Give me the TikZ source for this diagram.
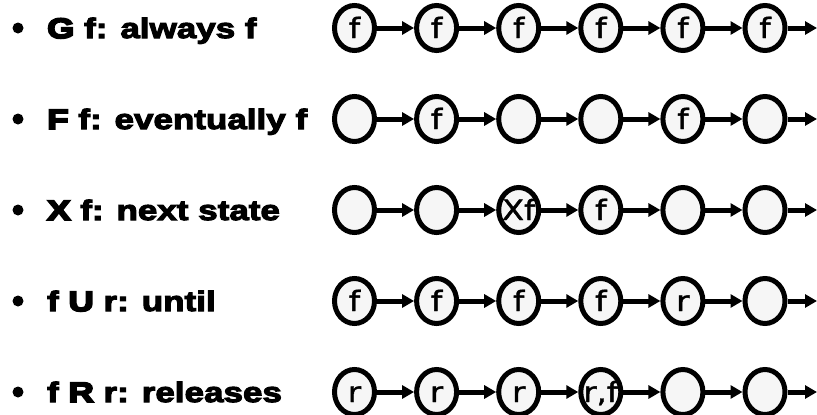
\documentclass[tikz,border=0pt]{standalone}
\usepackage{fontspec}
\usetikzlibrary{shapes.geometric,arrows.meta}
\setmainfont{Liberation Sans}
\newfontfamily\headfont{Liberation Sans Bold}[FakeBold=4,FakeStretch=1.25]
\newfontfamily\opfont{Liberation Sans Bold}[FakeBold=7,FakeStretch=1.25]
\newfontfamily\statefont{DejaVu Sans}[FakeBold=1.5,FakeStretch=1.15]
\definecolor{statefill}{HTML}{F6F6F6}
\newcommand{\stlabel}[1]{\makebox[0pt]{\smash{\raisebox{-10pt}{\statefont\fontsize{28}{28}\selectfont #1}}}}
\tikzset{
  state/.style={ellipse, draw=black, fill=statefill, line width=5pt,
    minimum width=40pt, minimum height=45pt, inner sep=0pt},
  trans/.style={line width=5pt, -{Triangle[length=12pt,width=13pt]}},
  heading/.style={anchor=base west, inner sep=0pt, font=\headfont\fontsize{28}{28}\selectfont},
  bulletdot/.style={circle, fill=black, minimum size=11pt, inner sep=0pt},
}
\begin{document}
\begin{tikzpicture}[x=1pt,y=-1pt]
\useasboundingbox (0,0) rectangle (817,415);
% the five temporal operators, one row each
\foreach \row/\txt/\labs in {
  1/{{\opfont G} f: always f}/{f,f,f,f,f,f},
  2/{{\opfont F} f: eventually f}/{{},f,{},{},f,{}},
  3/{{\opfont X} f: next state}/{{},{},Xf,f,{},{}},
  4/{f {\opfont U} r: until}/{f,f,f,f,r,{}},
  5/{f {\opfont R} r: releases}/{r,r,r,{r,f},{},{}}}{
  \pgfmathsetmacro{\yc}{28+91*(\row-1)}
  \node[bulletdot] (b\row) at (18,\yc) {};
  \node[heading] (h\row) at (47,\yc+10) {\txt};
  \foreach \lab [count=\c] in \labs {
    \node[state] (s\row-\c) at ({354.5+82.1*(\c-1)},\yc) {\stlabel{\lab}};
  }
  \foreach \c [evaluate=\c as \n using int(\c+1)] in {1,...,5} {
    \draw[trans] (s\row-\c) -- (s\row-\n);
  }
  \coordinate (e\row) at (817,\yc);
  \draw[trans] (s\row-6) -- (e\row);
}
\end{tikzpicture}
\end{document}
